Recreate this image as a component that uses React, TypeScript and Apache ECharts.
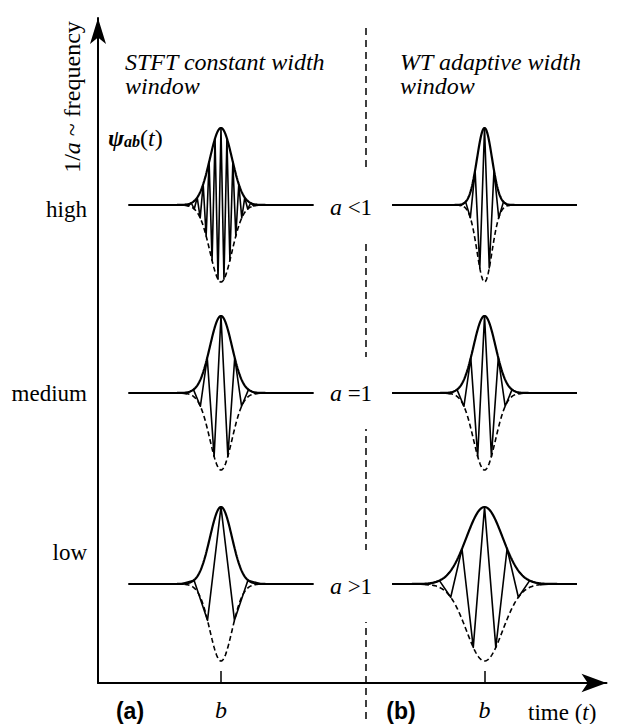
import React, { useEffect, useRef } from "react";
import * as echarts from "echarts";

// ---------- data ----------
const rowLabels = ["high", "medium", "low"];
const scaleSigns = ["<1", "=1", ">1"];
const panelLetters = ["(a)", "(b)"];
const titleLines = [
  ["STFT constant width", "window"],
  ["WT adaptive width", "window"],
];
// time units: 1 unit = envelope width (sigma) of the a = 1 wavelet
const timeSpan = 8.4; // half length of each drawn trace
const bTimes = [11.18, 35.14]; // position of b on the time axis, panels (a) and (b)
// STFT: constant window width, varying carrier period
const stftSigma = [1, 1, 1];
const stftPeriod = [0.54, 1.25, 2.45];
// WT: window width and period both scale with a
const wtSigma = [0.68, 1, 1.64];
const wtPeriod = [0.86, 1.25, 2.05];

// ---------- layout ----------
const W = 619;
const H = 724;
const AX_X = 98;
const AX_Y = 683;
const PX_PER_UNIT = 11;
const ROW_BASE = [205, 393, 584];
const AMP_PX = 77;
const FONT = "'Liberation Serif', 'Times New Roman', serif";
const MAIN_RIGHT = 12.5;
const MAIN_TOP = 18;

function envelope(sigma: number, sign: number) {
  const pts: number[][] = [];
  const step = 0.04;
  const n = Math.round(timeSpan / step);
  for (let i = -n; i <= n; i++) {
    const t = i * step;
    pts.push([t, sign * Math.exp(-(t * t) / (2 * sigma * sigma))]);
  }
  return pts;
}

function carrier(sigma: number, period: number) {
  const pts: number[][] = [[-timeSpan, 0]];
  const half = period / 2;
  const kmax = Math.floor((4 * sigma) / half);
  for (let k = -kmax; k <= kmax; k++) {
    const t = k * half;
    const s = Math.abs(k) % 2 === 0 ? 1 : -1;
    pts.push([t, s * Math.exp(-(t * t) / (2 * sigma * sigma))]);
  }
  pts.push([timeSpan, 0]);
  return pts;
}

function buildOption() {
  const mainWidth = W - AX_X - MAIN_RIGHT;
  const xMax = mainWidth / PX_PER_UNIT;

  const grids: any[] = [
    { left: AX_X, top: MAIN_TOP, right: MAIN_RIGHT, bottom: H - AX_Y },
  ];
  const xAxes: any[] = [
    {
      type: "value",
      gridIndex: 0,
      min: 0,
      max: xMax,
      axisLine: {
        show: true,
        onZero: false,
        symbol: ["none", "arrow"],
        symbolSize: [14, 25],
        lineStyle: { color: "#000", width: 2 },
      },
      axisTick: {
        show: true,
        inside: true,
        length: 12,
        customValues: bTimes,
        lineStyle: { color: "#000", width: 1.5 },
      },
      axisLabel: {
        show: true,
        customValues: bTimes,
        formatter: () => "b",
        fontFamily: FONT,
        fontStyle: "italic",
        fontSize: 24,
        color: "#000",
        margin: 15,
      },
      splitLine: { show: false },
    },
  ];
  const yAxes: any[] = [
    {
      type: "value",
      gridIndex: 0,
      min: 0,
      max: 1,
      axisLine: {
        show: true,
        onZero: false,
        symbol: ["none", "arrow"],
        symbolSize: [12, 26],
        lineStyle: { color: "#000", width: 2 },
      },
      axisTick: { show: false },
      axisLabel: { show: false },
      splitLine: { show: false },
    },
  ];
  const series: any[] = [
    { type: "line", xAxisIndex: 0, yAxisIndex: 0, data: [], silent: true },
  ];

  const cols = [
    { sigma: stftSigma, period: stftPeriod },
    { sigma: wtSigma, period: wtPeriod },
  ];
  let gi = 1;
  cols.forEach((col, c) => {
    for (let r = 0; r < 3; r++) {
      const left = AX_X + bTimes[c] * PX_PER_UNIT - timeSpan * PX_PER_UNIT;
      grids.push({
        left,
        top: ROW_BASE[r] - AMP_PX,
        width: 2 * timeSpan * PX_PER_UNIT,
        height: 2 * AMP_PX,
      });
      xAxes.push({ type: "value", gridIndex: gi, min: -timeSpan, max: timeSpan, show: false });
      yAxes.push({ type: "value", gridIndex: gi, min: -1, max: 1, show: false });
      const sg = col.sigma[r];
      const pr = col.period[r];
      series.push({
        type: "line",
        xAxisIndex: gi,
        yAxisIndex: gi,
        data: carrier(sg, pr),
        symbol: "none",
        clip: false,
        lineStyle: { color: "#000", width: 1.6, join: "round" },
        z: 3,
      });
      series.push({
        type: "line",
        xAxisIndex: gi,
        yAxisIndex: gi,
        data: envelope(sg, -1),
        symbol: "none",
        clip: false,
        lineStyle: { color: "#000", width: 1.6, type: [5, 3] },
        z: 2,
      });
      series.push({
        type: "line",
        xAxisIndex: gi,
        yAxisIndex: gi,
        data: envelope(sg, 1),
        symbol: "none",
        clip: false,
        lineStyle: { color: "#000", width: 2.2 },
        z: 4,
      });
      gi++;
    }
  });

  const serifStyle = (extra: any) => ({
    fontFamily: FONT,
    fontSize: 23,
    fill: "#000",
    ...extra,
  });

  const graphic: any[] = [
    {
      type: "line",
      shape: { x1: 366, y1: 28, x2: 366, y2: H },
      style: { stroke: "#000", lineWidth: 1.5, lineDash: [7, 5] },
      z: 1,
    },
    {
      type: "text",
      x: 72,
      y: 97,
      rotation: Math.PI / 2,
      style: serifStyle({
        text: "1/{i|a} ~ frequency",
        fontSize: 24,
        align: "center",
        verticalAlign: "middle",
        rich: { i: { fontFamily: FONT, fontSize: 24, fontStyle: "italic" } },
      }),
    },
    {
      type: "text",
      x: 108,
      y: 138,
      style: serifStyle({
        text: "{p|ψ}{s|ab}{n|(}{t|t}{n|)}",
        align: "left",
        verticalAlign: "middle",
        rich: {
          p: { fontFamily: FONT, fontSize: 24, fontStyle: "italic", fontWeight: "bold", verticalAlign: "bottom" },
          s: { fontFamily: FONT, fontSize: 16, fontStyle: "italic", fontWeight: "bold", verticalAlign: "bottom", padding: [0, 0, 1, 0] },
          n: { fontFamily: FONT, fontSize: 24, verticalAlign: "bottom" },
          t: { fontFamily: FONT, fontSize: 24, fontStyle: "italic", verticalAlign: "bottom" },
        },
      }),
    },
    {
      type: "text",
      x: 528,
      y: 712,
      style: serifStyle({
        text: "time ({i|t})",
        align: "left",
        verticalAlign: "middle",
        rich: { i: { fontFamily: FONT, fontSize: 23, fontStyle: "italic" } },
      }),
    },
  ];

  titleLines.forEach((lines, c) => {
    graphic.push({
      type: "text",
      x: c === 0 ? 125 : 400,
      y: 74,
      style: serifStyle({
        text: lines.join("\n"),
        fontSize: 24,
        fontStyle: "italic",
        lineHeight: 24,
        align: "left",
        verticalAlign: "middle",
      }),
    });
  });

  const rowLabelY = [209, 393, 552];
  rowLabels.forEach((lab, r) => {
    graphic.push({
      type: "text",
      x: 87,
      y: rowLabelY[r],
      style: serifStyle({ text: lab, align: "right", verticalAlign: "middle" }),
    });
  });

  const scaleY = [207, 393, 586];
  scaleSigns.forEach((s, r) => {
    graphic.push({
      type: "text",
      x: 351,
      y: scaleY[r],
      z: 10,
      style: serifStyle({
        text: "{i|a} " + s,
        align: "center",
        verticalAlign: "middle",
        backgroundColor: "#fff",
        padding: [24, 6],
        rich: { i: { fontFamily: FONT, fontSize: 24, fontStyle: "italic" } },
      }),
    });
  });

  const letterX = [130, 401];
  panelLetters.forEach((l, c) => {
    graphic.push({
      type: "text",
      x: letterX[c],
      y: 711,
      style: {
        text: l,
        fontFamily: "'Liberation Sans', Arial, sans-serif",
        fontWeight: "bold",
        fontSize: 23,
        fill: "#000",
        align: "center",
        verticalAlign: "middle",
      },
    });
  });

  return {
    animation: false,
    backgroundColor: "#fff",
    grid: grids,
    xAxis: xAxes,
    yAxis: yAxes,
    series,
    graphic,
  };
}

export default function App() {
  const ref = useRef<HTMLDivElement>(null);
  useEffect(() => {
    if (!ref.current) return;
    const chart = echarts.init(ref.current, undefined, { renderer: "svg" });
    chart.setOption(buildOption() as any);
    return () => chart.dispose();
  }, []);
  return (
    <div
      ref={ref}
      style={{ position: "absolute", left: 0, top: 0, width: W, height: H }}
    />
  );
}
